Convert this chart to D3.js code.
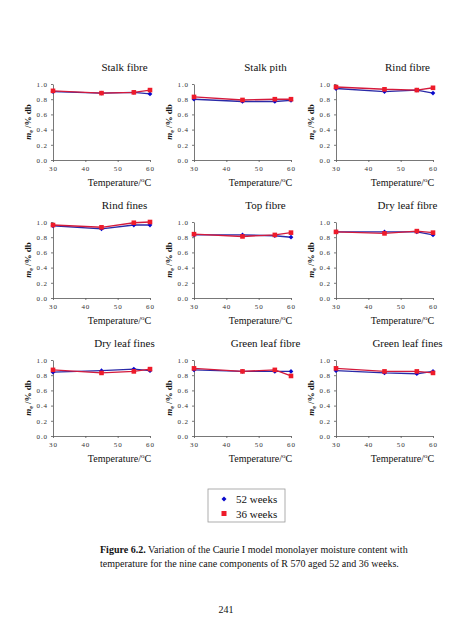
<!DOCTYPE html>
<html><head><meta charset="utf-8">
<script src="https://cdn.jsdelivr.net/npm/d3@7"></script>
<style>
body{margin:0;background:#fff;}
svg{display:block;font-family:"Liberation Serif","Times New Roman",serif;}
</style></head>
<body>
<svg id="c" width="452" height="640"></svg>
<script>
// ---- data ----
const temperatures = [30, 45, 55, 60];
const panelTitles = ["Stalk fibre","Stalk pith","Rind fibre","Rind fines","Top fibre","Dry leaf fibre","Dry leaf fines","Green leaf fibre","Green leaf fines"];
const weeks52 = [
  [0.90,0.88,0.89,0.87],
  [0.80,0.77,0.77,0.785],
  [0.94,0.90,0.92,0.88],
  [0.95,0.91,0.96,0.96],
  [0.83,0.83,0.82,0.80],
  [0.87,0.87,0.87,0.83],
  [0.84,0.86,0.88,0.86],
  [0.87,0.85,0.85,0.85],
  [0.86,0.83,0.82,0.85]
];
const weeks36 = [
  [0.91,0.88,0.89,0.92],
  [0.83,0.79,0.80,0.80],
  [0.96,0.93,0.92,0.95],
  [0.96,0.93,0.99,1.00],
  [0.84,0.81,0.83,0.86],
  [0.87,0.85,0.88,0.86],
  [0.87,0.83,0.85,0.88],
  [0.89,0.85,0.87,0.79],
  [0.89,0.85,0.85,0.83]
];
const xTicks = [30, 40, 50, 60];
const yTicks = [0, 0.2, 0.4, 0.6, 0.8, 1.0];
const seriesNames = ["52 weeks", "36 weeks"];

// ---- layout ----
const svg = d3.select("#c");
const colX = [53, 194, 336];
const rowY = [84, 222, 360];
const pw = 97, ph = 76;
const blueLine = "#2a2aa8", blueMark = "#0808cc";
const redLine = "#d41a3c", redMark = "#ee1b2a";
const serif = '"Liberation Serif","Times New Roman",serif';

panelTitles.forEach((title, i) => {
  const c = i % 3, r = Math.floor(i / 3);
  const g = svg.append("g").attr("transform", `translate(${colX[c]},${rowY[r]})`);
  const x = d3.scaleLinear().domain([30, 60]).range([0, pw]);
  const y = d3.scaleLinear().domain([0, 1]).range([ph, 0]);

  const ya = g.append("g").call(d3.axisLeft(y).tickValues(yTicks).tickFormat(d3.format(".1f")).tickSize(2).tickSizeOuter(0));
  const xa = g.append("g").attr("transform", `translate(0,${ph})`).call(d3.axisBottom(x).tickValues(xTicks).tickFormat(d3.format("d")).tickSize(2).tickSizeOuter(0));
  [ya, xa].forEach(a => {
    a.attr("font-family", serif);
    a.selectAll("path,line").attr("stroke", "#555").attr("stroke-width", 0.8);
    a.selectAll("text").attr("font-size", 7).attr("letter-spacing", 0.9).attr("fill", "#333")
      .attr("font-family", serif);
  });
  ya.selectAll("text").attr("x", -5);
  xa.selectAll("text").attr("y", 6);

  const line = d3.line().x((d, k) => x(temperatures[k])).y(d => y(d));
  g.append("path").datum(weeks52[i]).attr("d", line).attr("fill", "none").attr("stroke", blueLine).attr("stroke-width", 1.4);
  g.append("path").datum(weeks36[i]).attr("d", line).attr("fill", "none").attr("stroke", redLine).attr("stroke-width", 1.4);
  g.selectAll(".d").data(weeks52[i]).enter().append("path")
    .attr("transform", (d, k) => `translate(${x(temperatures[k])},${y(d)})`)
    .attr("d", d3.symbol(d3.symbolDiamond2, 14)()).attr("fill", blueMark);
  g.selectAll(".s").data(weeks36[i]).enter().append("rect")
    .attr("x", (d, k) => x(temperatures[k]) - 2.3).attr("y", d => y(d) - 2.3)
    .attr("width", 4.6).attr("height", 4.6).attr("fill", redMark);

  // title
  g.append("text").attr("x", pw / 2 + 23).attr("y", -13).attr("text-anchor", "middle")
    .attr("font-size", 11).attr("fill", "#111").text(title);
  // x label
  const xl = g.append("text").attr("x", pw / 2 + 18).attr("y", ph + 26).attr("text-anchor", "middle")
    .attr("font-size", 10).attr("fill", "#111");
  xl.append("tspan").text("Temperature/");
  xl.append("tspan").attr("font-size", 7).attr("dy", -4).text("o");
  xl.append("tspan").attr("dy", 4).text("C");
  // y label
  const yl = g.append("text").attr("transform", `translate(-22,${ph / 2}) rotate(-90)`).attr("text-anchor", "middle")
    .attr("font-size", 9).attr("font-weight", "bold").attr("fill", "#111");
  yl.append("tspan").attr("font-style", "italic").text("m");
  yl.append("tspan").attr("font-size", 6).attr("dy", 2).text("e");
  yl.append("tspan").attr("dy", -2).text(" /% db");
});

// ---- legend ----
const lg = svg.append("g").attr("transform", "translate(208,489)");
lg.append("rect").attr("width", 77).attr("height", 33).attr("fill", "#fff").attr("stroke", "#999").attr("stroke-width", 0.8);
lg.append("path").attr("transform", "translate(16,10)").attr("d", d3.symbol(d3.symbolDiamond2, 16)()).attr("fill", blueMark);
lg.append("rect").attr("x", 13.5).attr("y", 22).attr("width", 5).attr("height", 5).attr("fill", redMark);
lg.selectAll(".lt").data(seriesNames).enter().append("text")
  .attr("x", 28).attr("y", (d, k) => 14 + k * 15).attr("font-size", 11).attr("fill", "#111").text(d => d);

// ---- caption ----
const cap = svg.append("text").attr("x", 100).attr("y", 553).attr("font-size", 10).attr("fill", "#111");
cap.append("tspan").attr("font-weight", "bold").text("Figure 6.2.");
cap.append("tspan").text("  Variation of the Caurie I model monolayer moisture content with");
svg.append("text").attr("x", 100).attr("y", 567).attr("font-size", 10).attr("fill", "#111")
  .text("temperature for the nine cane components of R 570 aged 52 and 36 weeks.");
svg.append("text").attr("x", 226).attr("y", 613).attr("text-anchor", "middle").attr("font-size", 10).attr("fill", "#111").text("241");
</script>
</body></html>
